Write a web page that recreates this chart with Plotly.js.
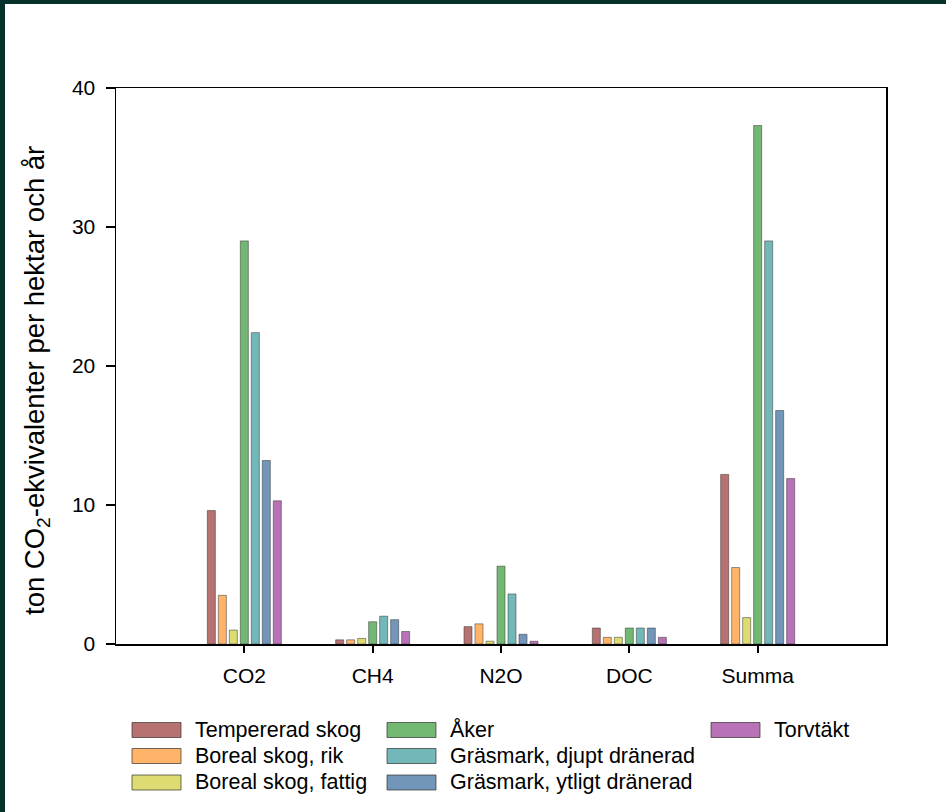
<!DOCTYPE html>
<html>
<head>
<meta charset="utf-8">
<script src="https://cdn.plot.ly/plotly-3.0.1.min.js"></script>
<style>
  html, body { margin: 0; padding: 0; background: #06312a; width: 946px; height: 812px; overflow: hidden; }
  #chart { position: absolute; left: 5px; top: 4px; width: 941px; height: 808px; background: #ffffff; }
</style>
</head>
<body>
<div id="chart"></div>
<script>
// ---- Data ----
const categories = ["CO2", "CH4", "N2O", "DOC", "Summa"];
const seriesNames = [
  "Tempererad skog", "Boreal skog, rik", "Boreal skog, fattig",
  "Åker", "Gräsmark, djupt dränerad", "Gräsmark, ytligt dränerad", "Torvtäkt"
];
const temperadSkog   = [9.6, 0.3, 1.25, 1.15, 12.2];
const borealRik      = [3.5, 0.3, 1.45, 0.48, 5.5];
const borealFattig   = [1.0, 0.4, 0.2, 0.48, 1.9];
const aker           = [29.0, 1.6, 5.6, 1.15, 37.3];
const grasDjupt      = [22.4, 2.0, 3.6, 1.15, 29.0];
const grasYtligt     = [13.2, 1.75, 0.7, 1.15, 16.8];
const torvtakt       = [10.3, 0.9, 0.2, 0.48, 11.9];
const seriesValues = [temperadSkog, borealRik, borealFattig, aker, grasDjupt, grasYtligt, torvtakt];
const yTickVals = [0, 10, 20, 30, 40];
const yTickText = ["0", "10", "20", "30", "40"];
const yTitle = "ton CO<sub>2</sub>-ekvivalenter per hektar och år";

// ---- Styles ----
const colors = ["#b77171", "#ffb46a", "#dcdc72", "#72b872", "#72b8b8", "#7296b9", "#b872b8"];
const font = "Liberation Sans, Arial, sans-serif";

const traces = seriesNames.map((name, i) => ({
  type: "bar",
  name: name,
  x: categories,
  y: seriesValues[i],
  marker: { color: colors[i], line: { color: "rgba(50,50,50,0.5)", width: 1 } },
  showlegend: false,
  hoverinfo: "x+y+name"
}));

// plot area in div pixels
const L = 111, T = 84, W = 770, H = 556;
const px = x => (x - 5 - L) / W;          // page x -> paper
const py = y => (T + H - (y - 4)) / H;     // page y -> paper

// custom legend (3 columns)
const legendCols = [[0, 1, 2], [3, 4, 5], [6]];
const colSwatchX = [132, 387, 711];
const rowY = [730, 756, 782.5];
const shapes = [];
const annotations = [];
legendCols.forEach((col, c) => {
  col.forEach((idx, r) => {
    const x0 = colSwatchX[c], y0 = rowY[r];
    shapes.push({
      type: "rect", xref: "paper", yref: "paper",
      x0: px(x0), x1: px(x0 + 49), y0: py(y0 - 7.5), y1: py(y0 + 7.5),
      fillcolor: colors[idx], line: { color: "rgba(50,50,50,0.7)", width: 1 }
    });
    annotations.push({
      xref: "paper", yref: "paper", x: px(x0 + 61), y: py(y0),
      xanchor: "left", yanchor: "middle", showarrow: false,
      text: seriesNames[idx], font: { family: font, size: 21.5, color: "#000" }
    });
  });
});
annotations.push({
  xref: "paper", yref: "paper", x: px(36), y: py(381),
  xanchor: "center", yanchor: "middle", showarrow: false, textangle: -90,
  text: yTitle, font: { family: font, size: 27.5, color: "#000" }
});

const layout = {
  width: 941, height: 808,
  margin: { l: L, r: 941 - L - W, t: T, b: 808 - T - H, pad: 0 },
  paper_bgcolor: "#ffffff", plot_bgcolor: "#ffffff",
  font: { family: font, size: 21, color: "#000" },
  barmode: "group", bargap: 0.4, bargroupgap: 0.27,
  showlegend: false,
  xaxis: {
    type: "category", range: [-1, 5], showgrid: false, zeroline: false,
    showline: true, linecolor: "#000", linewidth: 1.5, mirror: true,
    ticks: "outside", ticklen: 7, tickwidth: 2, tickcolor: "#000",
    tickfont: { family: font, size: 21, color: "#000" }, ticklabelstandoff: 5
  },
  yaxis: {
    range: [0, 40], tickvals: yTickVals, ticktext: yTickText,
    showgrid: false, zeroline: false,
    showline: true, linecolor: "#000", linewidth: 1.5, mirror: true,
    ticks: "outside", ticklen: 9, tickwidth: 1.5, tickcolor: "#000",
    tickfont: { family: font, size: 21, color: "#000" }, ticklabelstandoff: 6
  },
  shapes: shapes,
  annotations: annotations
};

Plotly.newPlot("chart", traces, layout, { staticPlot: true, displayModeBar: false });
</script>
</body>
</html>
